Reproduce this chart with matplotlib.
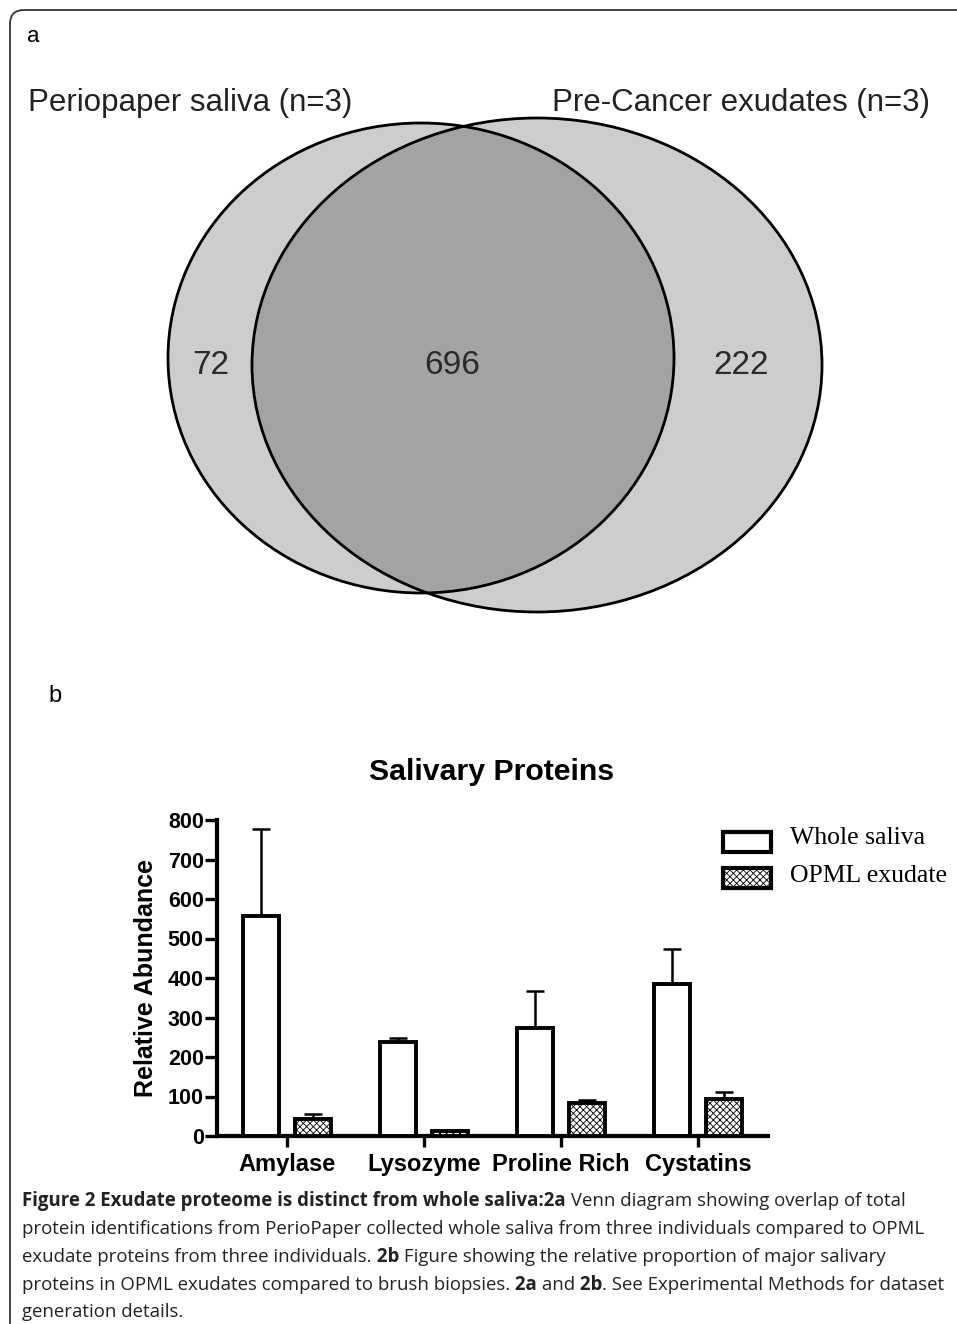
import numpy as np
import matplotlib
matplotlib.use("Agg")
import matplotlib.pyplot as plt
from matplotlib.patches import Ellipse, FancyBboxPatch, Rectangle

# ---- data ----
venn_names = ["Periopaper saliva (n=3)", "Pre-Cancer exudates (n=3)"]
venn_counts = [72, 696, 222]  # saliva only, shared, exudate only

categories = ["Amylase", "Lysozyme", "Proline Rich", "Cystatins"]
whole_saliva = [557, 237, 273, 385]
whole_saliva_err = [220, 12, 95, 88]
opml_exudate = [43, 12, 83, 93]
opml_exudate_err = [12, 3, 8, 18]
series_names = ["Whole saliva", "OPML exudate"]

caption_lines = [
    [("Figure 2 Exudate proteome is distinct from whole saliva:2a", True, False),
     ("Venn diagram showing overlap of total", False, True)],
    [("protein identifications from PerioPaper collected whole saliva from three individuals compared to OPML", False, False)],
    [("exudate proteins from three individuals.", False, False), ("2b", True, True),
     ("Figure showing the relative proportion of major salivary", False, True)],
    [("proteins in OPML exudates compared to brush biopsies.", False, False), ("2a", True, True),
     ("and", False, True), ("2b", True, True), (". See Experimental Methods for dataset", False, False)],
    [("generation details.", False, False)],
]

W, H = 957, 1324
plt.rcParams["font.family"] = ["Liberation Sans", "DejaVu Sans"]
plt.rcParams["hatch.linewidth"] = 0.6
fig = plt.figure(figsize=(W / 100, H / 100), dpi=100)

# background axes in pixel coordinates (frame, venn, legend, caption)
bg = fig.add_axes([0, 0, 1, 1])
bg.set_xlim(0, W)
bg.set_ylim(H, 0)
bg.axis("off")

frame = FancyBboxPatch((10, 10), 1200, 1600, boxstyle="round,pad=0,rounding_size=14",
                       fc="none", ec="#333333", lw=1.3)
bg.add_patch(frame)
bg.text(27, 36, "a", fontsize=16, va="center", ha="left")
bg.text(48, 696, "b", fontsize=17, va="center", ha="left")

# ----- Venn -----
light, dark = "#cdcdcd", "#a3a3a3"
left = dict(xy=(421, 358), width=506, height=470)
right = dict(xy=(537, 365), width=570, height=494)
bg.add_patch(Ellipse(**left, fc=light, ec="none"))
bg.add_patch(Ellipse(**right, fc=light, ec="none"))
clip = Ellipse(**right, fc="none", ec="none")
bg.add_patch(clip)
inter = Ellipse(**left, fc=dark, ec="none")
bg.add_patch(inter)
inter.set_clip_path(clip)
bg.add_patch(Ellipse(**left, fc="none", ec="black", lw=2))
bg.add_patch(Ellipse(**right, fc="none", ec="black", lw=2))

bg.text(28, 103, venn_names[0], fontsize=22.5, va="center", ha="left", color="#222222")
bg.text(930, 103, venn_names[1], fontsize=22.5, va="center", ha="right", color="#222222")
for x, n in zip([211, 452, 741], venn_counts):
    bg.text(x, 365, str(n), fontsize=24, ha="center", va="center", color="#2a2a2a")

# ----- bar chart -----
ax = fig.add_axes([217 / W, (H - 1136) / H, (768 - 217) / W, (1136 - 820) / H])
ax.set_facecolor("none")
x = np.arange(len(categories))
bw, off = 0.26, 0.19
ax.bar(x - off, whole_saliva, bw, color="white", edgecolor="black", lw=2.8, zorder=3, clip_on=False)
ax.bar(x + off, opml_exudate, bw, color="white", edgecolor="black", lw=2.8, hatch="xxxxx",
       zorder=3, clip_on=False)
zeros = np.zeros(len(categories))
ax.errorbar(x - off, whole_saliva, yerr=[zeros, whole_saliva_err], fmt="none", ecolor="black",
            elinewidth=1.8, capsize=6.8, capthick=1.8, zorder=2, clip_on=False)
ax.errorbar(x + off, opml_exudate, yerr=[zeros, opml_exudate_err], fmt="none", ecolor="black",
            elinewidth=1.8, capsize=6.8, capthick=1.8, zorder=2, clip_on=False)

ax.set_xlim(-0.51, 3.51)
ax.set_ylim(0, 800)
ax.set_yticks(range(0, 801, 100))
ax.set_xticks(x)
ax.set_xticklabels(categories, fontsize=17, fontweight="bold")
for lab in ax.get_yticklabels():
    lab.set_fontweight("bold")
    lab.set_fontsize(15.5)
ax.tick_params(axis="y", length=8.5, width=2.4, pad=1)
ax.tick_params(axis="x", length=8, width=2.4, pad=4)
for s in ["top", "right"]:
    ax.spines[s].set_visible(False)
for s in ["left", "bottom"]:
    ax.spines[s].set_linewidth(3)
ax.spines["left"].set_zorder(4)

bg.text(492, 772, "Salivary Proteins", fontsize=21.8, fontweight="bold", ha="center", va="center")
bg.text(146, 978, "Relative Abundance", fontsize=18, fontweight="bold", ha="center",
        va="center", rotation=90)

# legend
bg.add_patch(Rectangle((723, 832), 48, 20, fc="white", ec="black", lw=3))
bg.add_patch(Rectangle((723, 868), 48, 20, fc="white", ec="black", lw=3, hatch="xxxxx"))
bg.text(790, 838, series_names[0], fontsize=18.5, family="Liberation Serif", va="center", ha="left")
bg.text(790, 876, series_names[1], fontsize=18.5, family="Liberation Serif", va="center", ha="left")

# ----- caption -----
renderer = fig.canvas.get_renderer()
cap_font = ["Open Sans", "DejaVu Sans"]
x0, right_edge = 22, 945


def draw_line(segs, y, size, draw=True):
    # lay out the runs one after another; returns the right edge
    xp = x0
    for s, b, sp in segs:
        txt = (" " + s) if sp else s
        t = bg.text(xp, y, txt, fontsize=size, family=cap_font,
                    fontweight="bold" if b else "normal", va="baseline", ha="left",
                    color="#222222")
        bb = t.get_window_extent(renderer)
        xp = bg.transData.inverted().transform((bb.x1, 0))[0]
        if not draw:
            t.remove()
    return xp


size = 13.0
for _ in range(3):
    widest = max(draw_line(segs, 0, size, draw=False) for segs in caption_lines) - x0
    size *= (right_edge - x0) / widest

baselines = [1206, 1234, 1262, 1290, 1317]
for segs, yb in zip(caption_lines, baselines):
    draw_line(segs, yb, size)

fig.savefig("out.png", dpi=100)
